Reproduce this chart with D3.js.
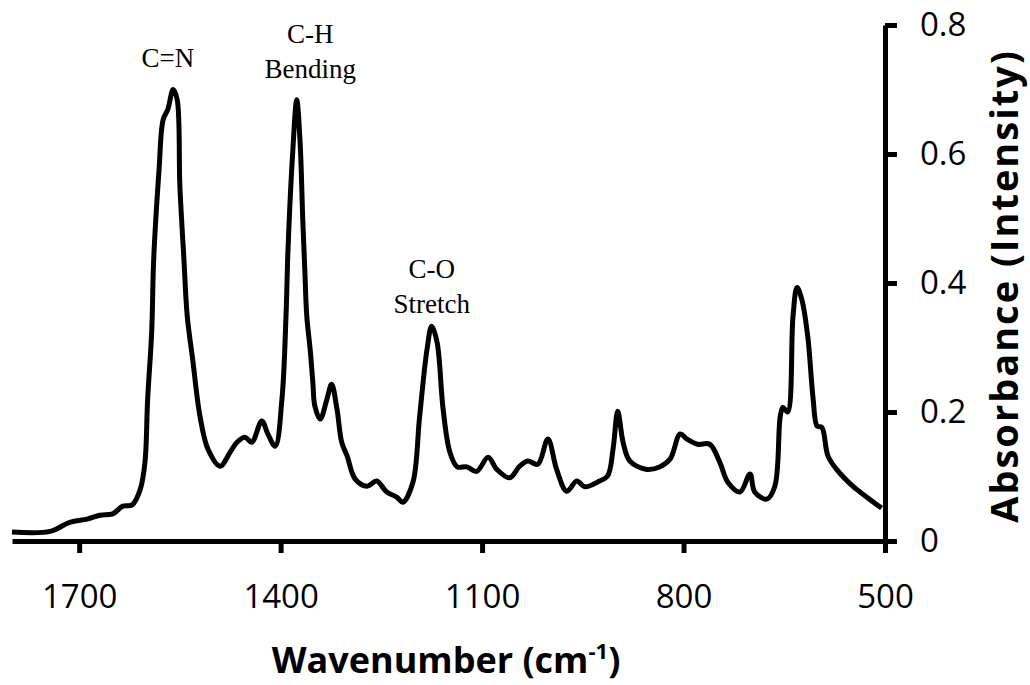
<!DOCTYPE html>
<html lang="en">
<head>
    <meta charset="UTF-8">
    <title>IR Absorbance Spectrum</title>
    <style>
        body { margin: 0; background: #fff; }
        .axis path, .axis line { stroke: #000; stroke-width: 5px; }
        .axis text { font-family: "Open Sans", sans-serif; font-size: 33px; fill: #000; }
        .spectrum { fill: none; stroke: #000; stroke-width: 5px; stroke-linejoin: round; }
        .title { font-family: "Open Sans", sans-serif; font-weight: bold; font-size: 36px; fill: #000; }
        .note { font-family: "Liberation Serif", "Times New Roman", serif; font-size: 27px; fill: #000; }
    </style>
    <script src="https://d3js.org/d3.v7.min.js"></script>
</head>
<body>
    <div id="chart"></div>
    <script>
        // wavenumber (cm-1) and absorbance
        const wavenumber = [1800, 1743, 1714, 1688, 1669, 1650, 1635, 1621, 1609, 1602,
            1598, 1592, 1589, 1581, 1575, 1568, 1560, 1554, 1550, 1544,
            1539, 1531, 1520, 1508, 1490, 1475, 1465, 1453, 1443, 1428,
            1419, 1408, 1398, 1392, 1389, 1382, 1376, 1371, 1367, 1364,
            1361, 1356, 1352, 1349, 1341, 1331, 1324, 1316, 1309, 1301,
            1289, 1271, 1257, 1242, 1227, 1218, 1203, 1193, 1182, 1175,
            1167, 1158, 1148, 1137, 1123, 1108, 1091, 1078, 1059, 1044,
            1032, 1017, 1002, 989, 974, 959, 947, 925, 913, 905,
            898, 890, 880, 855, 835, 820, 805, 795, 779, 761,
            746, 734, 716, 701, 694, 676, 664, 656, 652, 645,
            637, 631, 624, 615, 607, 601, 594, 585, 572, 548,
            527, 505];
        const absorbance = [0.014, 0.015, 0.029, 0.034, 0.040, 0.042, 0.054, 0.056, 0.080, 0.122,
            0.220, 0.324, 0.437, 0.576, 0.653, 0.669, 0.700, 0.684, 0.550, 0.437,
            0.348, 0.282, 0.193, 0.142, 0.116, 0.138, 0.153, 0.161, 0.153, 0.186,
            0.166, 0.147, 0.220, 0.348, 0.452, 0.602, 0.684, 0.618, 0.498, 0.421,
            0.348, 0.297, 0.246, 0.209, 0.189, 0.220, 0.243, 0.204, 0.153, 0.132,
            0.096, 0.085, 0.093, 0.076, 0.068, 0.060, 0.091, 0.193, 0.297, 0.333,
            0.308, 0.204, 0.138, 0.115, 0.115, 0.108, 0.130, 0.111, 0.098, 0.116,
            0.124, 0.119, 0.158, 0.111, 0.077, 0.093, 0.084, 0.093, 0.101, 0.142,
            0.201, 0.153, 0.124, 0.111, 0.115, 0.127, 0.166, 0.158, 0.150, 0.150,
            0.122, 0.091, 0.076, 0.104, 0.076, 0.065, 0.085, 0.193, 0.207, 0.200,
            0.348, 0.393, 0.375, 0.317, 0.220, 0.178, 0.176, 0.132, 0.111, 0.085,
            0.068, 0.051];

        const xTicks = [1700, 1400, 1100, 800, 500];
        const yTicks = [0, 0.2, 0.4, 0.6, 0.8];

        // peak labels: first line baseline sits at (wn, abs)
        const noteLines = [["C=N"], ["C-H", "Bending"], ["C-O", "Stretch"]];
        const noteWn = [1568, 1356, 1175];
        const noteAbs = [0.735, 0.772, 0.408];

        const width = 1030, height = 685;

        const svg = d3.select("#chart").append("svg")
            .attr("width", width)
            .attr("height", height);

        const x = d3.scaleLinear().domain([1800, 500]).range([12, 885]);
        const y = d3.scaleLinear().domain([0, 0.8]).range([541, 25]);

        svg.append("g")
            .attr("class", "axis")
            .attr("transform", `translate(0,${y(0)})`)
            .call(d3.axisBottom(x).tickValues(xTicks).tickSize(12).tickSizeOuter(0).tickPadding(32)
                .tickFormat(d3.format("d")));

        svg.append("g")
            .attr("class", "axis")
            .attr("transform", `translate(${x(500)},0)`)
            .call(d3.axisRight(y).tickValues(yTicks).tickSize(12).tickSizeOuter(0).tickPadding(23)
                .tickFormat(d => d === 0 ? "0" : d.toFixed(1)));

        // let the css fonts win over the axis defaults
        svg.selectAll(".axis").attr("font-family", null).attr("font-size", null);

        const points = wavenumber.map((w, i) => [w, absorbance[i]]);

        const line = d3.line()
            .x(d => x(d[0]))
            .y(d => y(d[1]))
            .curve(d3.curveCatmullRom.alpha(0.5));

        svg.append("path")
            .datum(points)
            .attr("class", "spectrum")
            .attr("d", line);

        noteLines.forEach((lines, i) => {
            const t = svg.append("text")
                .attr("class", "note")
                .attr("text-anchor", "middle")
                .attr("x", x(noteWn[i]))
                .attr("y", y(noteAbs[i]));
            lines.forEach((s, j) => {
                t.append("tspan")
                    .attr("x", x(noteWn[i]))
                    .attr("dy", j === 0 ? 0 : 35)
                    .text(s);
            });
        });

        const xt = svg.append("text")
            .attr("class", "title")
            .attr("text-anchor", "middle")
            .attr("x", 446)
            .attr("y", 673);
        xt.append("tspan").text("Wavenumber (cm");
        xt.append("tspan").attr("font-size", "22px").attr("dy", -14).text("-1");
        xt.append("tspan").attr("dy", 14).text(")");

        svg.append("text")
            .attr("class", "title")
            .attr("text-anchor", "middle")
            .attr("font-size", "38px")
            .attr("letter-spacing", "2px")
            .style("font-size", "38px")
            .attr("transform", "translate(1018,286) rotate(-90)")
            .text("Absorbance (Intensity)");
    </script>
</body>
</html>
